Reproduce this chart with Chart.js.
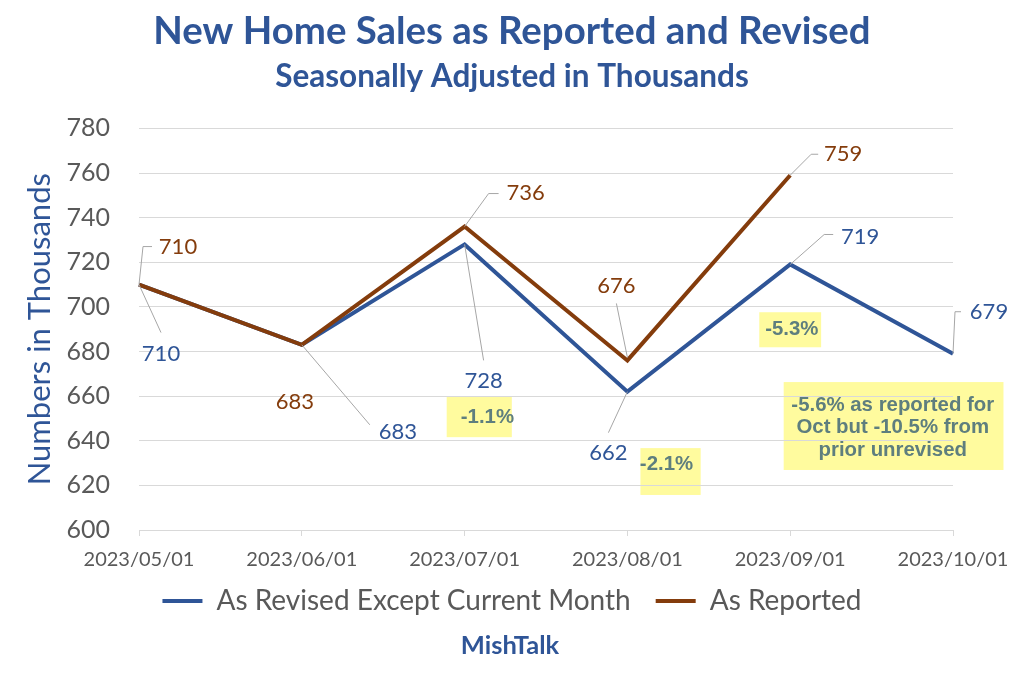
<!DOCTYPE html>
<html>
<head>
<meta charset="utf-8">
<script src="https://cdn.jsdelivr.net/npm/chart.js@4.4.0/dist/chart.umd.min.js"></script>
<style>
  html, body { margin: 0; padding: 0; background: #fff; }
</style>
</head>
<body>
<canvas id="sales-chart" width="1024" height="684"></canvas>
<script>
const months = ['2023/05/01', '2023/06/01', '2023/07/01', '2023/08/01', '2023/09/01', '2023/10/01'];
const revised = [710, 683, 728, 662, 719, 679];
const reported = [710, 683, 736, 676, 759, null];
const yMin = 600;
const yMax = 780;
const yStep = 20;
const notes = [
    ['-1.1%'],
    ['-2.1%'],
    ['-5.3%'],
    ['-5.6% as reported for', 'Oct but -10.5% from', 'prior unrevised']
];

const blue = '#2F5597';
const brown = '#843C0C';
const grey = '#595959';
const font = 'Lato, "Liberation Sans", sans-serif';

// where each value label sits relative to its point, with its leader line
const labelSpots = [
    [
        { dx: 22, dy: 69, lead: [[0, 0], [22, 48]] },
        { dx: 96, dy: 87, lead: [[0, 0], [68, 80]] },
        { dx: 19, dy: 137, lead: [[0, 0], [19, 116]] },
        { dx: -19, dy: 61, lead: [[0, 0], [-19, 41]] },
        { dx: 70, dy: -28, lead: [[0, 0], [34, -30], [43, -30]] },
        { dx: 36, dy: -42, lead: [[0, 0], [2, -42], [8, -42]] }
    ],
    [
        { dx: 39, dy: -38, lead: [[0, 0], [4, -38], [13, -38]] },
        { dx: -7, dy: 57, lead: null },
        { dx: 61, dy: -34, lead: [[0, 0], [24, -33], [34, -33]] },
        { dx: -11, dy: -75, lead: [[0, -3], [-11, -57]] },
        { dx: 53, dy: -21, lead: [[0, 0], [21, -21], [28, -21]] },
        null
    ]
];

// yellow note boxes, in category index / value units
const noteSpots = [
    { x1: 1.89, x2: 2.29, y1: 659.6, y2: 641.6, tx: 2.14, ty: 650.6 },
    { x1: 3.08, x2: 3.45, y1: 636.7, y2: 615.7, tx: 3.24, ty: 629.6 },
    { x1: 3.81, x2: 4.19, y1: 697.6, y2: 681.9, tx: 4.01, ty: 690.0 },
    { x1: 3.96, x2: 5.31, y1: 666.3, y2: 626.9, tx: 4.63, ty: 645.9 }
];

const valueLabels = {
    id: 'valueLabels',
    afterDatasetsDraw(chart) {
        const ctx = chart.ctx;
        ctx.save();
        ctx.font = '22px ' + font;
        ctx.textAlign = 'center';
        ctx.textBaseline = 'middle';
        chart.data.datasets.forEach((ds, di) => {
            const meta = chart.getDatasetMeta(di);
            meta.data.forEach((pt, i) => {
                const spot = labelSpots[di][i];
                if (!spot || ds.data[i] == null) return;
                if (spot.lead) {
                    ctx.strokeStyle = '#A6A6A6';
                    ctx.lineWidth = 1;
                    ctx.beginPath();
                    spot.lead.forEach((p, k) => {
                        if (k === 0) ctx.moveTo(pt.x + p[0], pt.y + p[1]);
                        else ctx.lineTo(pt.x + p[0], pt.y + p[1]);
                    });
                    ctx.stroke();
                }
                ctx.fillStyle = ds.borderColor;
                ctx.fillText(String(ds.data[i]), pt.x + spot.dx, pt.y + spot.dy);
            });
        });
        ctx.restore();
    }
};

const noteBoxes = {
    id: 'noteBoxes',
    beforeDraw(chart) {
        const ctx = chart.ctx;
        const x = chart.scales.x;
        const y = chart.scales.y;
        ctx.save();
        noteSpots.forEach((s, i) => {
            const left = x.getPixelForValue(s.x1);
            const right = x.getPixelForValue(s.x2);
            const top = y.getPixelForValue(s.y1);
            const bottom = y.getPixelForValue(s.y2);
            ctx.fillStyle = '#FFFB9E';
            ctx.fillRect(left, top, right - left, bottom - top);
            ctx.fillStyle = '#5E7E7E';
            ctx.font = 'bold 20.4px "Liberation Sans", Arial, sans-serif';
            ctx.textAlign = 'center';
            ctx.textBaseline = 'middle';
            const lines = notes[i];
            const cx = x.getPixelForValue(s.tx);
            const cy = y.getPixelForValue(s.ty);
            lines.forEach((t, k) => {
                ctx.fillText(t, cx, cy + (k - (lines.length - 1) / 2) * 22.5);
            });
        });
        ctx.restore();
    }
};

// center titles and legend on the whole canvas, and pull the legend up
const blockNudge = {
    id: 'blockNudge',
    afterLayout(chart) {
        chart.boxes.forEach(b => {
            if (b.axis) return;
            b.left = 0;
            b.right = chart.width;
        });
        if (chart.legend) {
            chart.legend.top -= 21;
            chart.legend.bottom -= 21;
        }
    }
};

const footer = {
    id: 'footer',
    afterDraw(chart) {
        const ctx = chart.ctx;
        ctx.save();
        ctx.fillStyle = blue;
        ctx.font = 'bold 25.5px ' + font;
        ctx.textAlign = 'center';
        ctx.textBaseline = 'middle';
        ctx.fillText('MishTalk', 510, 646);
        ctx.restore();
    }
};

new Chart(document.getElementById('sales-chart'), {
    type: 'line',
    data: {
        labels: months,
        datasets: [{
            label: 'As Revised Except Current Month',
            data: revised,
            borderColor: blue,
            backgroundColor: blue,
            borderWidth: 4,
            pointRadius: 0,
            tension: 0,
            order: 2
        }, {
            label: 'As Reported',
            data: reported,
            borderColor: brown,
            backgroundColor: brown,
            borderWidth: 4,
            pointRadius: 0,
            tension: 0,
            spanGaps: false,
            order: 1
        }]
    },
    options: {
        responsive: false,
        animation: false,
        layout: {
            padding: { left: 0, right: 71, top: 0, bottom: 38 }
        },
        scales: {
            x: {
                offset: false,
                grid: { drawOnChartArea: false, drawTicks: true, tickLength: 6, color: '#D9D9D9' },
                border: { color: '#D9D9D9' },
                ticks: { color: grey, font: { family: font, size: 20 }, padding: 11.5, maxRotation: 0, autoSkip: false }
            },
            y: {
                min: yMin,
                max: yMax,
                ticks: { stepSize: yStep, color: grey, font: { family: font, size: 25 }, padding: 29 },
                grid: { color: '#D9D9D9', drawTicks: false },
                border: { display: false },
                title: {
                    display: true,
                    text: 'Numbers in Thousands',
                    color: blue,
                    font: { family: font, size: 31 },
                    padding: { top: 21, bottom: 0 }
                },
                afterFit(scale) { scale.width = 139; }
            }
        },
        plugins: {
            title: {
                display: true,
                text: 'New Home Sales as Reported and Revised',
                color: blue,
                font: { family: font, size: 38.4, weight: 'bold' },
                padding: { top: 9, bottom: 0 }
            },
            subtitle: {
                display: true,
                text: 'Seasonally Adjusted in Thousands',
                color: blue,
                font: { family: font, size: 31.5, weight: 'bold' },
                padding: { top: 2.5, bottom: 33 }
            },
            legend: {
                position: 'bottom',
                labels: {
                    color: grey,
                    font: { family: font, size: 28 },
                    usePointStyle: true,
                    pointStyle: 'line',
                    pointStyleWidth: 40,
                    padding: 25,
                    sort: (a, b) => a.datasetIndex - b.datasetIndex
                }
            },
            tooltip: { enabled: false }
        }
    },
    plugins: [noteBoxes, valueLabels, blockNudge, footer]
});
</script>
</body>
</html>
